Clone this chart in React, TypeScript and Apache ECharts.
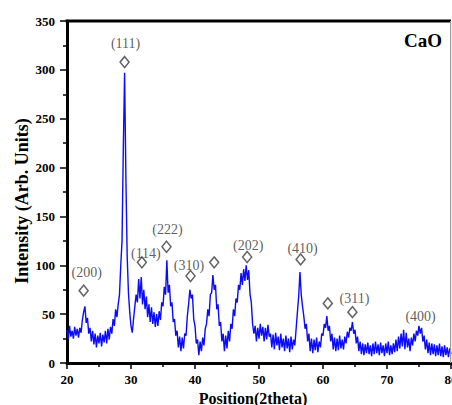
import React, { useEffect, useRef } from "react";
import * as echarts from "echarts";

// Sampling grid of the diffractogram (degrees 2θ)
const twoThetaStart = 20;
const twoThetaStep = 0.2;

// Intensity, every 0.2° from 20.0° to 80.0°
const intensity = [
  34, 24, 38, 27, 33, // 20
  25, 37, 28, 35, 26, // 21
  36, 31, 44, 52, 58, // 22
  41, 46, 30, 36, 22, // 23
  33, 19, 30, 16, 28, // 24
  20, 31, 17, 29, 21, // 25
  33, 20, 35, 24, 37, // 26
  30, 45, 38, 55, 47, // 27
  60, 70, 100, 125, 220, // 28
  297, 190, 110, 72, 52, // 29
  38, 31, 45, 58, 70, // 30
  62, 86, 66, 88, 60, // 31
  75, 55, 68, 47, 60, // 32
  42, 57, 40, 52, 37, // 33
  50, 38, 53, 44, 62, // 34
  58, 78, 70, 105, 72, // 35
  80, 58, 62, 42, 45, // 36
  28, 33, 16, 27, 12, // 37
  26, 15, 30, 28, 48, // 38
  60, 75, 66, 70, 45, // 39
  38, 20, 24, 8, 22, // 40
  12, 26, 18, 35, 40, // 41
  55, 48, 70, 72, 90, // 42
  75, 80, 55, 60, 38, // 43
  42, 22, 30, 12, 28, // 44
  15, 33, 22, 40, 35, // 45
  55, 48, 66, 62, 80, // 46
  75, 92, 80, 96, 84, // 47
  100, 85, 95, 70, 62, // 48
  40, 30, 38, 22, 36, // 49
  25, 40, 28, 37, 22, // 50
  36, 24, 39, 27, 30, // 51
  16, 29, 14, 31, 18, // 52
  27, 13, 30, 16, 25, // 53
  12, 28, 15, 25, 11, // 54
  27, 14, 24, 18, 35, // 55
  52, 68, 93, 70, 58, // 56
  48, 35, 40, 22, 30, // 57
  12, 25, 10, 24, 13, // 58
  26, 11, 22, 16, 30, // 59
  28, 40, 36, 48, 33, // 60
  38, 22, 30, 14, 26, // 61
  12, 25, 13, 28, 15, // 62
  24, 14, 27, 20, 32, // 63
  26, 36, 33, 42, 30, // 64
  34, 20, 27, 12, 22, // 65
  9, 20, 8, 19, 10, // 66
  21, 9, 18, 7, 20, // 67
  9, 22, 10, 19, 8, // 68
  21, 10, 18, 7, 20, // 69
  10, 22, 8, 18, 9, // 70
  20, 11, 24, 12, 27, // 71
  15, 30, 17, 34, 14, // 72
  31, 16, 25, 12, 26, // 73
  18, 30, 22, 33, 28, // 74
  38, 30, 36, 22, 28, // 75
  14, 24, 10, 21, 8, // 76
  20, 9, 19, 7, 18, // 77
  8, 20, 7, 17, 6, // 78
  18, 8, 16, 6, 15, // 79
  9, // 80
];

// Reflection markers
const peakNames = ["(200)", "(111)", "(114)", "(222)", "(310)", "", "(202)", "(410)", "", "(311)", "(400)"];
const peakTheta = [22.6, 29.0, 31.7, 35.55, 39.3, 43.0, 48.15, 56.5, 60.75, 64.6, 75.25];
const peakMarkY = [74, 308, 103, 119, 89, 103, 108.5, 106, 61, 52, 48];
const peakHasDiamond = [true, true, true, true, true, true, true, true, true, true, false];

// Label offsets (pixels) relative to each marker
const labelOffsets = [
  [3, -18], [1, -19], [4, -9], [1, -17], [-1.5, -11], [0, 0],
  [1, -11], [2, -11], [0, 0], [2, -14], [0, 0],
];

const xTicks = { min: 20, max: 80, interval: 10 };
const yTicks = { min: 0, max: 350, interval: 50 };

// Layout
const W = 452;
const H = 405;
const GRID = { left: 67, right: 1, top: 21, bottom: 42 };

const SERIF_FAMILY = "'Liberation Serif', serif";

export default function App() {
  const ref = useRef<HTMLDivElement>(null);

  useEffect(() => {
    if (!ref.current) return;
    const chart = echarts.init(ref.current, null, { renderer: "svg" });

    const lineData = intensity.map((v, i) => [
      +(twoThetaStart + i * twoThetaStep).toFixed(2),
      v,
    ]);

    const markerData = peakNames.map((name, i) => ({
      value: [peakTheta[i], peakMarkY[i]],
      symbolSize: peakHasDiamond[i] ? [9, 11] : 0,
      label: {
        show: name !== "",
        formatter: name,
        offset: labelOffsets[i],
      },
    }));

    const axisColor = "#000";
    const tickLabel = {
      color: axisColor,
      fontFamily: SERIF_FAMILY,
      fontWeight: "bold",
      fontSize: 13,
    };
    const plotW = W - GRID.left - GRID.right;
    const plotH = H - GRID.top - GRID.bottom;

    chart.setOption({
      animation: false,
      backgroundColor: "#ffffff",
      textStyle: { fontFamily: SERIF_FAMILY },
      grid: {
        ...GRID,
        containLabel: false,
        outerBoundsMode: "none",
      },
      xAxis: [
        {
          type: "value",
          min: xTicks.min,
          max: xTicks.max,
          interval: xTicks.interval,
          position: "bottom",
          axisLine: { show: true, onZero: false, lineStyle: { color: axisColor, width: 3 } },
          axisTick: { show: true, length: 6, lineStyle: { color: axisColor, width: 1.5 } },
          minorTick: { show: true, splitNumber: 2, length: 4, lineStyle: { color: axisColor, width: 1.5 } },
          splitLine: { show: false },
          minorSplitLine: { show: false },
          axisLabel: { ...tickLabel, margin: 10 },
        },
      ],
      yAxis: [
        {
          type: "value",
          min: yTicks.min,
          max: yTicks.max,
          interval: yTicks.interval,
          position: "left",
          axisLine: { show: true, onZero: false, lineStyle: { color: axisColor, width: 3 } },
          axisTick: { show: true, length: 7, lineStyle: { color: axisColor, width: 1.5 } },
          minorTick: { show: true, splitNumber: 2, length: 4, lineStyle: { color: axisColor, width: 1.5 } },
          splitLine: { show: false },
          minorSplitLine: { show: false },
          axisLabel: { ...tickLabel, margin: 12 },
        },
      ],
      series: [
        {
          type: "line",
          data: lineData,
          showSymbol: false,
          symbol: "none",
          lineStyle: { color: "#0a0aff", width: 1.4 },
          z: 2,
        },
        {
          type: "scatter",
          data: markerData,
          symbol: "diamond",
          itemStyle: { color: "rgba(255,255,255,0)", borderColor: "#3a3a3a", borderWidth: 1.5 },
          label: {
            show: true,
            position: "inside",
            color: "#333",
            fontFamily: SERIF_FAMILY,
            fontSize: 14,
          },
          z: 3,
        },
      ],
      graphic: {
        elements: [
          {
            type: "rect",
            x: GRID.left - 1.5,
            y: GRID.top - 1.5,
            shape: { x: 0, y: 0, width: plotW + 1.5, height: 3 },
            style: { fill: "#000" },
            z: 100,
          },
          {
            type: "rect",
            x: W - GRID.right - 1,
            y: GRID.top,
            shape: { x: 0, y: 0, width: 1.2, height: plotH },
            style: { fill: "#9a9a9a" },
            z: 100,
          },
          {
            type: "text",
            x: 404,
            y: 31,
            style: {
              text: "CaO",
              font: `bold 19px ${SERIF_FAMILY}`,
              fill: "#000",
            },
            z: 100,
          },
          {
            type: "text",
            x: 22,
            y: 201,
            rotation: Math.PI / 2,
            style: {
              text: "Intensity (Arb. Units)",
              font: `bold 18px ${SERIF_FAMILY}`,
              fill: "#000",
              align: "center",
              verticalAlign: "middle",
            },
            z: 100,
          },
          {
            type: "text",
            x: 253,
            y: 398,
            style: {
              text: "Position(2theta)",
              font: `bold 16px ${SERIF_FAMILY}`,
              fill: "#000",
              align: "center",
              verticalAlign: "middle",
            },
            z: 100,
          },
        ],
      },
    });

    return () => chart.dispose();
  }, []);

  return (
    <div
      ref={ref}
      style={{ position: "absolute", left: 0, top: 0, width: W, height: H, background: "#fff" }}
    />
  );
}
